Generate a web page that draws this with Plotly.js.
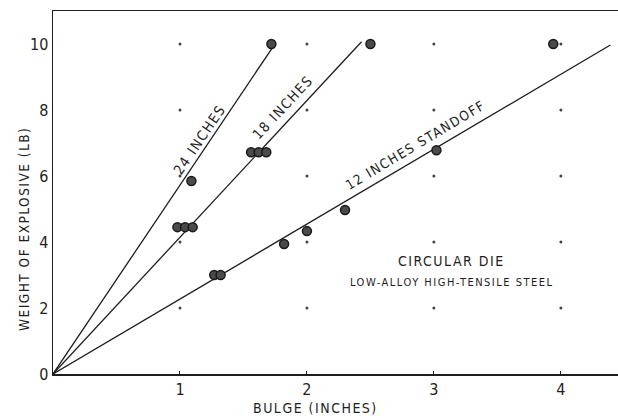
<!DOCTYPE html>
<html>
<head>
<meta charset="utf-8">
<script src="https://cdn.plot.ly/plotly-3.0.1.min.js"></script>
<style>
html,body{margin:0;padding:0;background:#fff;}
#chart{width:618px;height:419px;}
.annotation-text{letter-spacing:1.5px;}
</style>
</head>
<body>
<div id="chart"></div>
<script>
// ---- data ----
var xTicks = [1, 2, 3, 4];
var yTicks = [0, 2, 4, 6, 8, 10];
var xTickText = ['1', '2', '3', '4'];
var yTickText = ['0', '2', '4', '6', '8', '10'];

// measured points (bulge in inches, weight in lb)
var pts24x = [1.09, 1.72];
var pts24y = [5.85, 10.0];
var pts18x = [0.98, 1.04, 1.10, 1.56, 1.62, 1.68, 2.50];
var pts18y = [4.45, 4.45, 4.45, 6.72, 6.72, 6.72, 10.0];
var pts12x = [1.27, 1.32, 1.82, 2.00, 2.30, 3.02, 3.94];
var pts12y = [3.0, 3.0, 3.94, 4.33, 4.97, 6.78, 10.0];

// fitted lines (from origin to end)
var line24x = [0, 1.73];
var line24y = [0, 9.9];
var line18x = [0, 2.43];
var line18y = [0, 10.07];
var line12x = [0, 4.39];
var line12y = [0, 9.97];

var lineLabels = ['24 INCHES', '18 INCHES', '12 INCHES STANDOFF'];
var noteLine1 = 'CIRCULAR DIE';
var noteLine2 = 'LOW-ALLOY HIGH-TENSILE STEEL';
var xTitle = 'BULGE (INCHES)';
var yTitle = 'WEIGHT OF EXPLOSIVE (LB)';

// grid dots at tick intersections
var gridX = [], gridY = [];
xTicks.forEach(function (gx) {
  yTicks.forEach(function (gy) { if (gy > 0) { gridX.push(gx); gridY.push(gy); } });
});

var FONT = 'DejaVu Sans Condensed, Liberation Sans Narrow, sans-serif';
var INK = '#1e1e1e';

function lineTrace(x, y) {
  return {x: x, y: y, mode: 'lines', type: 'scatter', hoverinfo: 'skip',
          line: {color: INK, width: 1.3}, showlegend: false};
}
function ptTrace(x, y) {
  return {x: x, y: y, mode: 'markers', type: 'scatter', showlegend: false,
          marker: {size: 9, color: '#4a4a4a', line: {color: '#1a1a1a', width: 1.5}}};
}

var data = [
  {x: gridX, y: gridY, mode: 'markers', type: 'scatter', showlegend: false, hoverinfo: 'skip',
   marker: {size: 3, color: '#444'}},
  lineTrace(line24x, line24y),
  lineTrace(line18x, line18y),
  lineTrace(line12x, line12y),
  ptTrace(pts24x, pts24y),
  ptTrace(pts18x, pts18y),
  ptTrace(pts12x, pts12y)
];

var layout = {
  width: 618, height: 419,
  margin: {l: 53, r: 0, t: 11, b: 45, pad: 0},
  paper_bgcolor: '#fff', plot_bgcolor: '#fff',
  showlegend: false,
  font: {family: FONT, color: INK, size: 15},
  xaxis: {
    range: [0, 4.45], showgrid: false, zeroline: false,
    showline: true, linecolor: INK, linewidth: 1.5, mirror: true,
    tickvals: xTicks, ticktext: xTickText, ticks: 'inside', ticklen: 3, tickcolor: INK,
    tickfont: {family: FONT, size: 16, color: INK}
  },
  yaxis: {
    range: [0, 11], showgrid: false, zeroline: false,
    showline: true, linecolor: INK, linewidth: 1.5,
    tickvals: yTicks, ticktext: yTickText, ticks: '', ticklen: 0,
    tickfont: {family: FONT, size: 16, color: INK}
  },
  annotations: [
    {x: 1.15, y: 7.1, text: lineLabels[0], textangle: -56, showarrow: false,
     font: {family: FONT, size: 14, color: INK}},
    {x: 1.81, y: 8.1, text: lineLabels[1], textangle: -47, showarrow: false,
     font: {family: FONT, size: 14, color: INK}},
    {x: 2.85, y: 6.95, text: lineLabels[2], textangle: -31, showarrow: false,
     font: {family: FONT, size: 13.5, color: INK}},
    {x: 3.14, y: 3.42, text: noteLine1, showarrow: false,
     font: {family: FONT, size: 14, color: INK}},
    {x: 3.14, y: 2.76, text: noteLine2, showarrow: false,
     font: {family: FONT, size: 11, color: INK}},
    {xref: 'paper', yref: 'paper', x: -0.051, y: 0.40, text: yTitle, textangle: -90,
     showarrow: false, xanchor: 'center', yanchor: 'middle',
     font: {family: FONT, size: 13.5, color: INK}},
    {xref: 'paper', yref: 'paper', x: 0.464, y: -0.094, text: xTitle,
     showarrow: false, xanchor: 'center', yanchor: 'middle',
     font: {family: FONT, size: 14, color: INK}}
  ]
};

Plotly.newPlot('chart', data, layout, {staticPlot: true, displayModeBar: false});
</script>
</body>
</html>
